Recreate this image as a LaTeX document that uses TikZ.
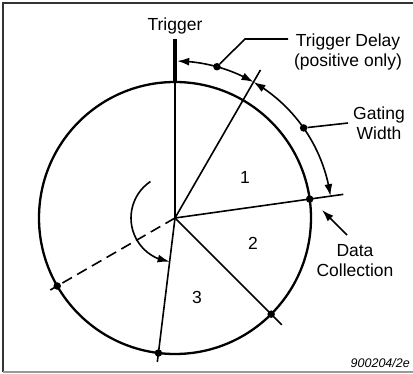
\documentclass[tikz,border=0pt]{standalone}
\usepackage{fontspec}
\setmainfont{Liberation Sans}
\usetikzlibrary{arrows.meta,calc,bending}
\begin{document}
\begin{tikzpicture}[x=1pt,y=1pt,
  lbl/.style={font=\fontsize{17.5}{20}\selectfont, align=center, inner sep=0pt},
  radial/.style={line width=1.6pt},
  dotnode/.style={circle, fill=black, inner sep=0pt, minimum size=7.5pt},
  tipend/.style={-{Latex[length=12pt,width=8pt]}},
  tipboth/.style={{Latex[length=12pt,width=8pt]}-{Latex[length=12pt,width=8pt]}},
]
\useasboundingbox (0,0) rectangle (413,373);
% frame
\draw[line width=2pt, black!80] (3,1) -- (3,370) -- (413,370);
\draw[line width=1.5pt, black!40] (3,1) -- (413,1);
% circle
\coordinate (C) at (175,155);
\draw[line width=2.3pt] (C) circle (136);
% trigger
\coordinate (Ttop) at ($(C)+(90:136)$);
\coordinate (Tend) at ($(C)+(90:179)$);
\draw[radial] (C) -- (Ttop);
\draw[line width=4.5pt] (Ttop) -- (Tend);
\node[lbl] (trig) at (175,347) {Trigger};
% radial lines
\coordinate (L1) at ($(C)+(60:171)$);
\coordinate (L2) at ($(C)+(8:170)$);
\coordinate (L3) at ($(C)+(-45:151)$);
\coordinate (L4) at ($(C)+(-97:145)$);
\coordinate (L5) at ($(C)+(210:144)$);
\draw[radial] (C) -- (L1);
\draw[radial] (C) -- (L2);
\draw[radial] (C) -- (L3);
\draw[radial] (C) -- (L4);
\draw[radial, dash pattern=on 11pt off 6pt] (C) -- (L5);
% dots on circle
\node[dotnode] (p2) at ($(C)+(8:136)$) {};
\node[dotnode] (p3) at ($(C)+(-45:136)$) {};
\node[dotnode] (p4) at ($(C)+(-97:136)$) {};
\node[dotnode] (p5) at ($(C)+(210:136)$) {};
% sector numbers
\node[lbl] (n1) at (245,196) {1};
\node[lbl] (n2) at (253,130) {2};
\node[lbl] (n3) at (197,76) {3};
% outer arcs
\draw[radial, tipboth] ($(C)+(89.2:157)$) arc[start angle=89.2, end angle=60, radius=157];
\draw[radial, tipboth] ($(C)+(60:157)$) arc[start angle=60, end angle=8, radius=157];
\node[dotnode] (dTD) at ($(C)+(74.5:157)$) {};
\node[dotnode] (dGW) at ($(C)+(35:157)$) {};
% trigger delay label
\node[lbl] (TD) at (348,321) {Trigger Delay\\(positive only)};
\coordinate (k1) at (245,334);
\coordinate (k2) at (288,334);
\draw[radial] (dTD) -- (k1) -- (k2);
% gating width label
\node[lbl] (GW) at (379,250) {Gating\\Width};
\coordinate (k3) at (348,250);
\draw[radial] (dGW) -- (k3);
% data collection label
\node[lbl] (DC) at (355,112) {Data\\Collection};
\coordinate (k4) at (347,138);
\coordinate (k5) at (322,163);
\draw[radial, tipend] (k4) -- (k5);
% curved arrow
\draw[radial, tipend] ($(C)+(124:44)$) arc[start angle=124, end angle=263, radius=44];
% figure id
\node[font=\fontsize{12.5}{14}\selectfont\itshape, anchor=base east, inner sep=0pt] (id) at (410,6) {900204/2e};
\end{tikzpicture}
\end{document}
